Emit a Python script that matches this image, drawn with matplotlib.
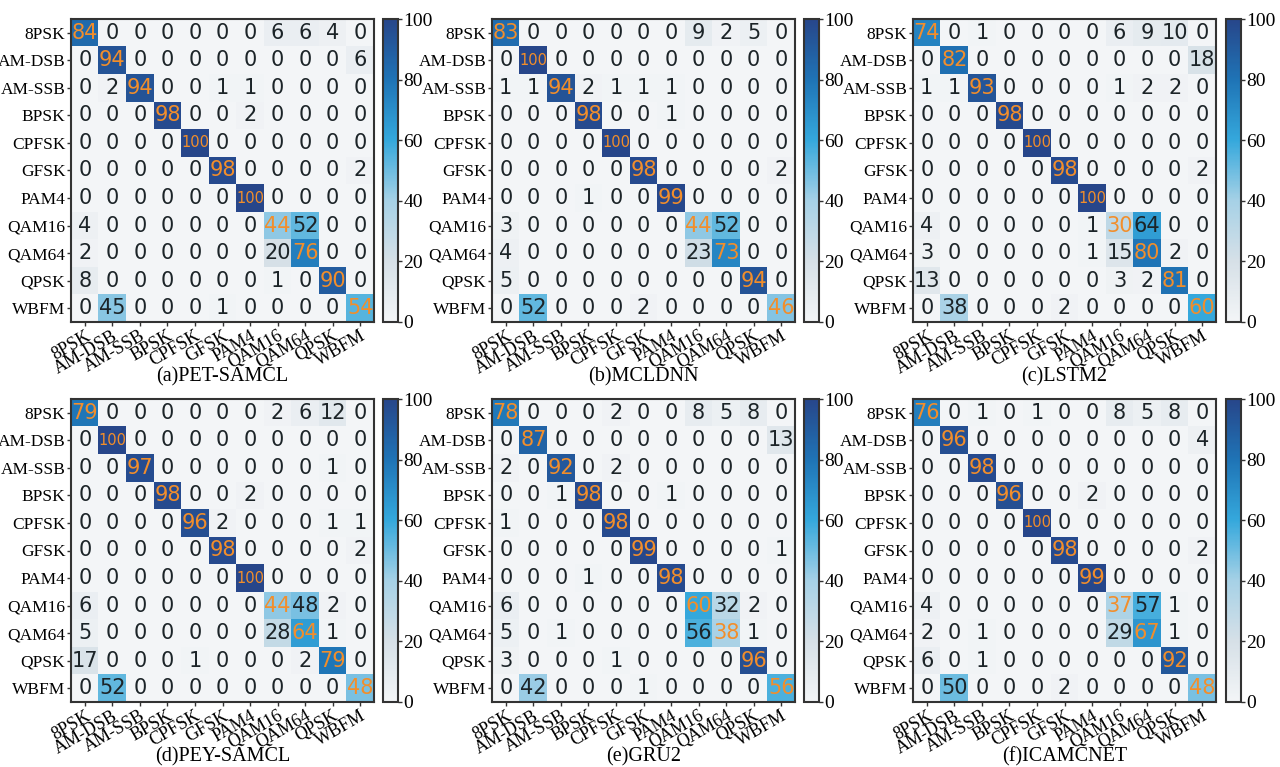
import numpy as np
import matplotlib
matplotlib.use("Agg")
import matplotlib.pyplot as plt
from matplotlib.colors import LinearSegmentedColormap

classes = ['8PSK', 'AM-DSB', 'AM-SSB', 'BPSK', 'CPFSK', 'GFSK',
           'PAM4', 'QAM16', 'QAM64', 'QPSK', 'WBFM']

# confusion matrices in percent, rows = true class, cols = predicted
pet_samcl = [
    [84, 0, 0, 0, 0, 0, 0, 6, 6, 4, 0],
    [0, 94, 0, 0, 0, 0, 0, 0, 0, 0, 6],
    [0, 2, 94, 0, 0, 1, 1, 0, 0, 0, 0],
    [0, 0, 0, 98, 0, 0, 2, 0, 0, 0, 0],
    [0, 0, 0, 0, 100, 0, 0, 0, 0, 0, 0],
    [0, 0, 0, 0, 0, 98, 0, 0, 0, 0, 2],
    [0, 0, 0, 0, 0, 0, 100, 0, 0, 0, 0],
    [4, 0, 0, 0, 0, 0, 0, 44, 52, 0, 0],
    [2, 0, 0, 0, 0, 0, 0, 20, 76, 0, 0],
    [8, 0, 0, 0, 0, 0, 0, 1, 0, 90, 0],
    [0, 45, 0, 0, 0, 1, 0, 0, 0, 0, 54],
]
mcldnn = [
    [83, 0, 0, 0, 0, 0, 0, 9, 2, 5, 0],
    [0, 100, 0, 0, 0, 0, 0, 0, 0, 0, 0],
    [1, 1, 94, 2, 1, 1, 1, 0, 0, 0, 0],
    [0, 0, 0, 98, 0, 0, 1, 0, 0, 0, 0],
    [0, 0, 0, 0, 100, 0, 0, 0, 0, 0, 0],
    [0, 0, 0, 0, 0, 98, 0, 0, 0, 0, 2],
    [0, 0, 0, 1, 0, 0, 99, 0, 0, 0, 0],
    [3, 0, 0, 0, 0, 0, 0, 44, 52, 0, 0],
    [4, 0, 0, 0, 0, 0, 0, 23, 73, 0, 0],
    [5, 0, 0, 0, 0, 0, 0, 0, 0, 94, 0],
    [0, 52, 0, 0, 0, 2, 0, 0, 0, 0, 46],
]
lstm2 = [
    [74, 0, 1, 0, 0, 0, 0, 6, 9, 10, 0],
    [0, 82, 0, 0, 0, 0, 0, 0, 0, 0, 18],
    [1, 1, 93, 0, 0, 0, 0, 1, 2, 2, 0],
    [0, 0, 0, 98, 0, 0, 0, 0, 0, 0, 0],
    [0, 0, 0, 0, 100, 0, 0, 0, 0, 0, 0],
    [0, 0, 0, 0, 0, 98, 0, 0, 0, 0, 2],
    [0, 0, 0, 0, 0, 0, 100, 0, 0, 0, 0],
    [4, 0, 0, 0, 0, 0, 1, 30, 64, 0, 0],
    [3, 0, 0, 0, 0, 0, 1, 15, 80, 2, 0],
    [13, 0, 0, 0, 0, 0, 0, 3, 2, 81, 0],
    [0, 38, 0, 0, 0, 2, 0, 0, 0, 0, 60],
]
pey_samcl = [
    [79, 0, 0, 0, 0, 0, 0, 2, 6, 12, 0],
    [0, 100, 0, 0, 0, 0, 0, 0, 0, 0, 0],
    [0, 0, 97, 0, 0, 0, 0, 0, 0, 1, 0],
    [0, 0, 0, 98, 0, 0, 2, 0, 0, 0, 0],
    [0, 0, 0, 0, 96, 2, 0, 0, 0, 1, 1],
    [0, 0, 0, 0, 0, 98, 0, 0, 0, 0, 2],
    [0, 0, 0, 0, 0, 0, 100, 0, 0, 0, 0],
    [6, 0, 0, 0, 0, 0, 0, 44, 48, 2, 0],
    [5, 0, 0, 0, 0, 0, 0, 28, 64, 1, 0],
    [17, 0, 0, 0, 1, 0, 0, 0, 2, 79, 0],
    [0, 52, 0, 0, 0, 0, 0, 0, 0, 0, 48],
]
gru2 = [
    [78, 0, 0, 0, 2, 0, 0, 8, 5, 8, 0],
    [0, 87, 0, 0, 0, 0, 0, 0, 0, 0, 13],
    [2, 0, 92, 0, 2, 0, 0, 0, 0, 0, 0],
    [0, 0, 1, 98, 0, 0, 1, 0, 0, 0, 0],
    [1, 0, 0, 0, 98, 0, 0, 0, 0, 0, 0],
    [0, 0, 0, 0, 0, 99, 0, 0, 0, 0, 1],
    [0, 0, 0, 1, 0, 0, 98, 0, 0, 0, 0],
    [6, 0, 0, 0, 0, 0, 0, 60, 32, 2, 0],
    [5, 0, 1, 0, 0, 0, 0, 56, 38, 1, 0],
    [3, 0, 0, 0, 1, 0, 0, 0, 0, 96, 0],
    [0, 42, 0, 0, 0, 1, 0, 0, 0, 0, 56],
]
icamcnet = [
    [76, 0, 1, 0, 1, 0, 0, 8, 5, 8, 0],
    [0, 96, 0, 0, 0, 0, 0, 0, 0, 0, 4],
    [0, 0, 98, 0, 0, 0, 0, 0, 0, 0, 0],
    [0, 0, 0, 96, 0, 0, 2, 0, 0, 0, 0],
    [0, 0, 0, 0, 100, 0, 0, 0, 0, 0, 0],
    [0, 0, 0, 0, 0, 98, 0, 0, 0, 0, 2],
    [0, 0, 0, 0, 0, 0, 99, 0, 0, 0, 0],
    [4, 0, 0, 0, 0, 0, 0, 37, 57, 1, 0],
    [2, 0, 1, 0, 0, 0, 0, 29, 67, 1, 0],
    [6, 0, 1, 0, 0, 0, 0, 0, 0, 92, 0],
    [0, 50, 0, 0, 0, 2, 0, 0, 0, 0, 48],
]

models = [pet_samcl, mcldnn, lstm2, pey_samcl, gru2, icamcnet]
captions = ['(a)PET-SAMCL', '(b)MCLDNN', '(c)LSTM2',
            '(d)PEY-SAMCL', '(e)GRU2', '(f)ICAMCNET']

cmap = LinearSegmentedColormap.from_list('cm_blue', [
    (0.0, '#f3f5f7'), (0.2, '#d6e0e7'), (0.4, '#a6d1e6'),
    (0.6, '#35a8dc'), (0.8, '#1f74b6'), (1.0, '#27468a')])

serif = 'Liberation Serif'
W, H = 1280, 767
fig = plt.figure(figsize=(12.8, 7.67), dpi=100)

lefts = [71, 492, 913]
cb_lefts = [383, 804, 1226]
tops = [19, 399]
size = 303

for k, cm in enumerate(models):
    r, c = divmod(k, 3)
    x0, y0 = lefts[c], tops[r]
    ax = fig.add_axes([x0 / W, 1 - (y0 + size) / H, size / W, size / H])
    data = np.array(cm)
    im = ax.imshow(data, cmap=cmap, vmin=0, vmax=100, aspect='auto')
    n = len(classes)
    for i in range(n):
        for j in range(n):
            v = data[i, j]
            col = '#f28e2b' if i == j else '#1c2428'
            fs = 10.5 if v >= 100 else 15
            ax.text(j, i, str(v), ha='center', va='center', color=col,
                    fontsize=fs, family='DejaVu Sans')
    ax.set_xticks(range(n))
    ax.set_yticks(range(n))
    ax.set_xticklabels(classes, rotation=30, ha='right', rotation_mode='anchor',
                       family=serif, fontsize=13)
    ax.set_yticklabels(classes, family=serif, fontsize=12.5)
    ax.tick_params(length=3, width=1, pad=1, color='#333333')
    for sp in ax.spines.values():
        sp.set_linewidth(1.5)
        sp.set_color('#333333')

    cax = fig.add_axes([cb_lefts[c] / W, 1 - (y0 + size) / H, 15 / W, size / H])
    cb = fig.colorbar(im, cax=cax, ticks=[0, 20, 40, 60, 80, 100])
    cb.outline.set_linewidth(1.5)
    cb.outline.set_edgecolor('#333333')
    cax.tick_params(length=3, width=1, pad=1, color='#333333')
    for t in cax.get_yticklabels():
        t.set_family(serif)
        t.set_fontsize(14)

    fig.text((x0 + size / 2) / W, 1 - (y0 + 358) / H, captions[k],
             ha='center', va='center', family=serif, fontsize=14.5)

fig.savefig('out.png', dpi=100)
